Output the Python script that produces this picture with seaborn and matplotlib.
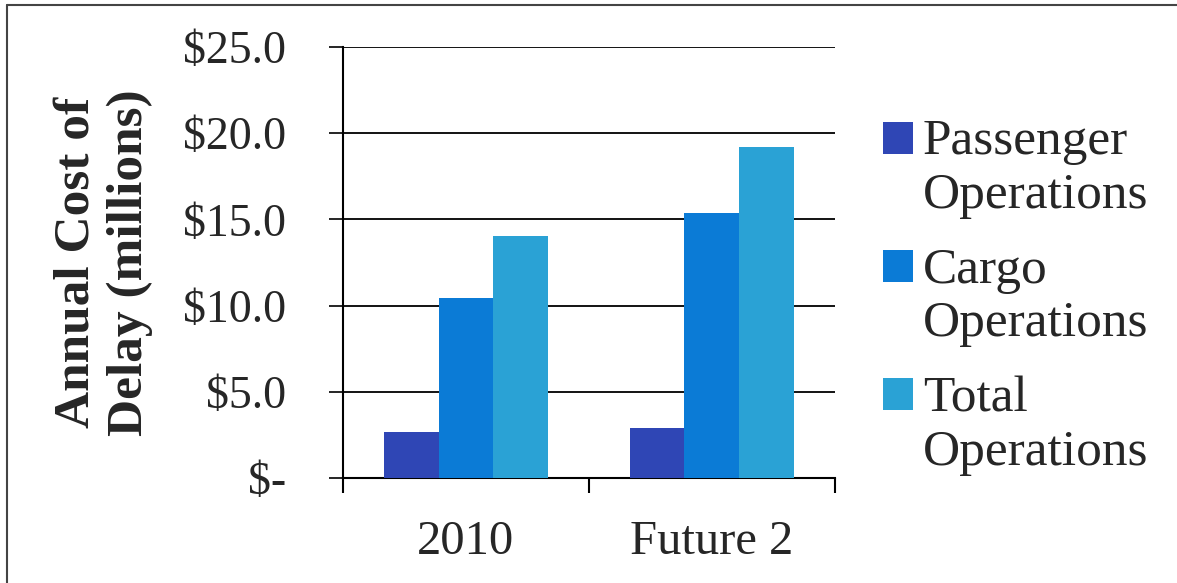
import pandas as pd
import matplotlib
matplotlib.use('Agg')
import matplotlib.pyplot as plt
import seaborn as sns
from matplotlib.patches import Rectangle
from matplotlib.legend_handler import HandlerPatch
from matplotlib.lines import Line2D

# Data (millions of dollars)
scenarios = ['2010', 'Future 2']
series = ['Passenger\nOperations', 'Cargo\nOperations', 'Total\nOperations']
passenger = [2.65, 2.9]
cargo = [10.45, 15.35]
total = [14.05, 19.2]
colors = ['#2F46B5', '#0B7BD6', '#2AA2D5']
y_ticks = [0, 5, 10, 15, 20, 25]
y_labels = [r'\$-', r'\$5.0', r'\$10.0', r'\$15.0', r'\$20.0', r'\$25.0']

df = pd.DataFrame({
    'Scenario': scenarios * 3,
    'Series': [s for s in series for _ in scenarios],
    'Cost': passenger + cargo + total,
})

sns.set_style('white')
plt.rcParams['font.family'] = ['Liberation Serif', 'DejaVu Serif']
text_color = '#262626'

fig = plt.figure(figsize=(11.77, 5.83), dpi=100)
ax = fig.add_axes([0.2914, 0.1801, 0.4180, 0.7393])

sns.barplot(data=df, x='Scenario', y='Cost', hue='Series', palette=colors,
            width=0.67, saturation=1, linewidth=0, edgecolor='none',
            ax=ax, zorder=3)

# axes styling
ax.set_ylim(0, 25)
ax.set_xlim(-0.5, 1.5)
ax.set_axisbelow(True)
ax.yaxis.grid(True, color='black', linewidth=1.3)
ax.xaxis.grid(False)
for side in ['top', 'right']:
    ax.spines[side].set_visible(False)
for side in ['left', 'bottom']:
    ax.spines[side].set_color('black')
    ax.spines[side].set_linewidth(1.5)

ax.set_yticks(y_ticks)
ax.set_yticklabels(y_labels)
ax.tick_params(axis='y', which='major', left=True, length=10, width=1.2,
               color='black', pad=31, labelsize=33, labelcolor=text_color)

ax.set_xticks([0, 1])
ax.set_xticklabels(scenarios)
ax.set_xticks([-0.5, 0.5, 1.5], minor=True)
ax.tick_params(axis='x', which='major', length=0, pad=30, labelsize=35,
               labelcolor=text_color)
ax.tick_params(axis='x', which='minor', bottom=True, length=11, width=1.5,
               color='black')

ax.set_xlabel('')
ax.set_ylabel('Annual Cost of\nDelay (millions)', fontsize=37,
              fontweight='bold', color=text_color, linespacing=1.2)
ax.yaxis.set_label_coords(-0.386, 0.5)

# legend with the swatch next to the first line of each label
handles, labels = ax.get_legend_handles_labels()
ax.get_legend().remove()


def top_swatch(legend, orig_handle, xdescent, ydescent, width, height, fontsize):
    return Rectangle((-xdescent, -ydescent + 0.6 * fontsize), width, height)


leg = fig.legend(handles, labels, loc='center left',
                 bbox_to_anchor=(0.750, 0.49), borderpad=0, borderaxespad=0,
                 frameon=False, fontsize=37, labelcolor=text_color,
                 handlelength=0.58, handleheight=0.58, handletextpad=0.2,
                 labelspacing=0.55,
                 handler_map={h: HandlerPatch(patch_func=top_swatch) for h in handles})
for t in leg.get_texts():
    t.set_linespacing(1.2)

# scanned frame edges (top and left)
fig.add_artist(Line2D([0.006, 1], [0.9914, 0.9914], transform=fig.transFigure,
                      color='#444444', linewidth=1.5))
fig.add_artist(Line2D([0.006, 0.006], [0, 0.9914], transform=fig.transFigure,
                      color='#444444', linewidth=1.5))

fig.savefig('out.png', dpi=100, facecolor='white')
